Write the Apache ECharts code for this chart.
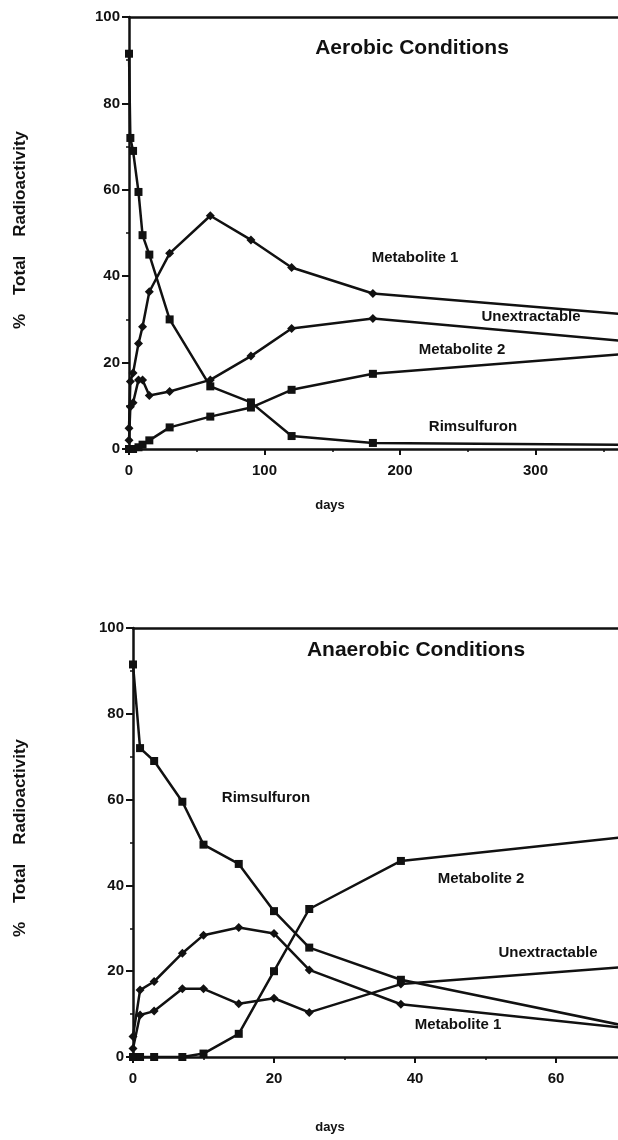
<!DOCTYPE html>
<html>
<head>
<meta charset="utf-8">
<script src="https://cdn.jsdelivr.net/npm/echarts@6/dist/echarts.min.js"></script>
<style>
  html, body { margin: 0; padding: 0; background: #fff; }
  #chart { width: 618px; height: 1140px; }
</style>
</head>
<body>
<div id="chart"></div>
<script>
// 有氧条件
const aeroDays = [0, 1, 3, 7, 10, 15, 30, 60, 90, 120, 180, 365];
const aeroRims = [91.5, 72, 69, 59.5, 49.5, 45, 30, 14.5, 10.8, 3, 1.4, 1.0];
const aeroMet1 = [4.8, 15.6, 17.6, 24.4, 28.3, 36.4, 45.3, 54, 48.4, 42, 36, 31.2];
const aeroMet2 = [0, 0, 0, 0.4, 1, 2, 5, 7.5, 9.6, 13.7, 17.4, 22];
const aeroUnex = [2, 9.8, 10.7, 16, 16, 12.4, 13.3, 16, 21.5, 27.9, 30.2, 25];

// 厌氧条件
const anaeDays = [0, 1, 3, 7, 10, 15, 20, 25, 38, 70];
const anaeRims = [91.5, 72, 69, 59.5, 49.5, 45, 34, 25.5, 18, 7.2];
const anaeMet1 = [4.8, 15.6, 17.6, 24.2, 28.4, 30.2, 28.8, 20.3, 12.3, 6.7];
const anaeMet2 = [0, 0, 0, 0, 0.8, 5.4, 20, 34.5, 45.7, 51.3];
const anaeUnex = [2, 9.8, 10.7, 15.9, 15.9, 12.4, 13.7, 10.4, 17, 21];

const yTicks = [0, 20, 40, 60, 80, 100];

const FONT = '"Liberation Sans", Arial, sans-serif';
const black = '#111';

const pairs = (xs, ys) => xs.map((x, i) => [x, ys[i]]);

const lineSeries = (name, xi, yi, xs, ys, symbol) => ({
  name,
  type: 'line',
  xAxisIndex: xi,
  yAxisIndex: yi,
  data: pairs(xs, ys),
  symbol: symbol,
  symbolSize: symbol === 'rect' ? 8 : 9,
  showAllSymbol: true,
  clip: true,
  lineStyle: { color: black, width: 2.5 },
  itemStyle: { color: black },
  z: 3,
});

const bottomXAxis = (gridIndex, max, interval) => ({
  type: 'value',
  gridIndex,
  min: 0,
  max,
  interval,
  position: 'bottom',
  axisLine: { onZero: false, lineStyle: { color: black, width: 2.5 } },
  axisTick: { length: 6, lineStyle: { color: black, width: 2 } },
  minorTick: { show: true, splitNumber: 2, length: 3, lineStyle: { color: black, width: 1.5 } },
  axisLabel: { showMaxLabel: false, margin: 14, fontFamily: FONT, fontWeight: 'bold', fontSize: 15, color: black },
  splitLine: { show: false },
});

const topXAxis = (gridIndex, max) => ({
  type: 'value',
  gridIndex,
  min: 0,
  max,
  position: 'top',
  axisLine: { onZero: false, lineStyle: { color: black, width: 2.5 } },
  axisTick: { show: false },
  axisLabel: { show: false },
  splitLine: { show: false },
});

const leftYAxis = (gridIndex) => ({
  type: 'value',
  gridIndex,
  min: yTicks[0],
  max: yTicks[yTicks.length - 1],
  interval: 20,
  axisLine: { show: true, lineStyle: { color: black, width: 2.5 } },
  axisTick: { show: true, length: 7, lineStyle: { color: black, width: 2 } },
  minorTick: { show: true, splitNumber: 2, length: 3, lineStyle: { color: black, width: 1.5 } },
  axisLabel: { margin: 9, fontFamily: FONT, fontWeight: 'bold', fontSize: 15, color: black },
  splitLine: { show: false },
});

const label = (text, x, y, size) => ({
  type: 'text',
  x, y,
  z: 10,
  style: { text, font: 'bold ' + size + 'px ' + FONT, fill: black, align: 'center', verticalAlign: 'middle' },
});

const yTitle = (y) => ({
  type: 'text',
  x: 20, y,
  rotation: Math.PI / 2,
  z: 10,
  style: { text: '%    Total    Radioactivity', font: 'bold 17px ' + FONT, fill: black, align: 'center', verticalAlign: 'middle' },
});

const chart = echarts.init(document.getElementById('chart'), null, { renderer: 'canvas' });

// 网格向右伸出画布, 右边框被裁掉
chart.setOption({
  animation: false,
  backgroundColor: '#fff',
  grid: [
    { left: 129, top: 17, width: 542, height: 432, outerBoundsMode: 'none', containLabel: false },
    { left: 133, top: 628, width: 564, height: 429, outerBoundsMode: 'none', containLabel: false },
  ],
  xAxis: [
    bottomXAxis(0, 400, 100),
    topXAxis(0, 400),
    bottomXAxis(1, 80, 20),
    topXAxis(1, 80),
  ],
  yAxis: [leftYAxis(0), leftYAxis(1)],
  series: [
    lineSeries('Rimsulfuron', 0, 0, aeroDays, aeroRims, 'rect'),
    lineSeries('Metabolite 1', 0, 0, aeroDays, aeroMet1, 'diamond'),
    lineSeries('Metabolite 2', 0, 0, aeroDays, aeroMet2, 'rect'),
    lineSeries('Unextractable', 0, 0, aeroDays, aeroUnex, 'diamond'),
    lineSeries('Rimsulfuron', 2, 1, anaeDays, anaeRims, 'rect'),
    lineSeries('Metabolite 1', 2, 1, anaeDays, anaeMet1, 'diamond'),
    lineSeries('Metabolite 2', 2, 1, anaeDays, anaeMet2, 'rect'),
    lineSeries('Unextractable', 2, 1, anaeDays, anaeUnex, 'diamond'),
  ],
  graphic: [
    label('Aerobic Conditions', 412, 48, 21),
    label('Metabolite 1', 415, 258, 15),
    label('Unextractable', 531, 317, 15),
    label('Metabolite 2', 462, 350, 15),
    label('Rimsulfuron', 473, 427, 15),
    label('days', 330, 505, 13),
    label('Anaerobic Conditions', 416, 650, 21),
    label('Rimsulfuron', 266, 798, 15),
    label('Metabolite 2', 481, 879, 15),
    label('Unextractable', 548, 953, 15),
    label('Metabolite 1', 458, 1025, 15),
    label('days', 330, 1127, 13),
    yTitle(230),
    yTitle(838),
  ],
});
</script>
</body>
</html>
